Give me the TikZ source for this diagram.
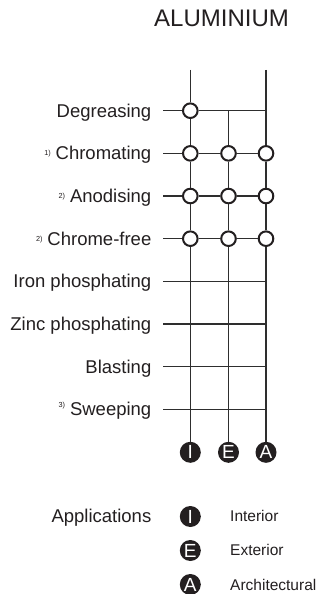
\documentclass[tikz,border=0pt]{standalone}
\usepackage{fontspec}
\setmainfont{Liberation Sans}
\definecolor{ink}{HTML}{231F20}
\definecolor{wire}{HTML}{2E2E2E}
\begin{document}
\begin{tikzpicture}[x=1pt,y=-1pt,
  lbl/.style={anchor=base east, inner sep=0, text=ink, font=\fontsize{18.5}{20}\selectfont},
  note/.style={anchor=base east, inner sep=0, text=ink, font=\fontsize{7.3}{8}\selectfont},
  leg/.style={anchor=base west, inner sep=0, text=ink, font=\fontsize{15.5}{17}\selectfont},
  ring/.style={circle, draw=ink, line width=2pt, fill=white, minimum size=14.6pt, inner sep=0},
  badge/.style={circle, fill=ink, minimum size=21pt, inner sep=0, text=white, font=\fontsize{19}{19}\selectfont},
  wireline/.style={draw=wire, line width=1.25pt},
  titlefont/.style={inner sep=0, text=ink, font=\fontsize{24}{26}\selectfont}]
\useasboundingbox (0,0) rectangle (321,594);
\fill[white] (0,0) rectangle (321,594);

\def\xa{190.3}\def\xb{228.5}\def\xc{266}\def\xs{163.3}\def\xl{151.5}

% title
\node[titlefont] (title) at (221.5,18.8) {ALUMINIUM};

% rows
\foreach \k/\t in {1/Degreasing,2/Chromating,3/Anodising,4/Chrome-free,5/Iron phosphating,6/Zinc phosphating,7/Blasting,8/Sweeping}{
  \pgfmathsetmacro{\yy}{110.7+42.66*(\k-1)}
  \node[lbl] (L\k) at (\xl,\yy+6.4) {\t};
  \coordinate (s\k) at (\xs,\yy);
  \coordinate (c\k1) at (\xa,\yy);
  \coordinate (c\k2) at (\xb,\yy);
  \coordinate (c\k3) at (\xc,\yy);
}
% footnote marks
\node[note] (n2) at ([xshift=-4.5pt,yshift=4pt]L2.base west) {1)};
\node[note] (n3) at ([xshift=-4.5pt,yshift=4pt]L3.base west) {2)};
\node[note] (n4) at ([xshift=-4.5pt,yshift=4pt]L4.base west) {2)};
\node[note] (n8) at ([xshift=-4.5pt,yshift=8pt]L8.base west) {3)};

% ring nodes
\node[ring] (r11) at (c11) {};
\foreach \k in {2,3,4}{
  \node[ring] (r\k1) at (c\k1) {};
  \node[ring] (r\k2) at (c\k2) {};
  \node[ring] (r\k3) at (c\k3) {};
}

% top ends
\coordinate (t1) at (\xa,70);
\coordinate (t3) at (\xc,70);

% bottom badges
\node[badge] (bI) at (\xa,452.3) {I};
\node[badge] (bE) at (\xb,452.3) {E};
\node[badge] (bA) at (\xc,452.3) {A};

% horizontal connectors
\draw[wireline] (s1) -- (r11);
\draw[wireline] (r11) -- (c13);
\foreach \k in {2,3,4}{
  \draw[wireline] (s\k) -- (r\k1);
  \draw[wireline] (r\k1) -- (r\k2);
  \draw[wireline] (r\k2) -- (r\k3);
}
\foreach \k in {5,6,7,8}{
  \draw[wireline] (s\k) -- (c\k3);
}

% vertical connectors
\draw[wireline] (t1) -- (r11);
\draw[wireline] (r11) -- (r21);
\draw[wireline] (r21) -- (r31);
\draw[wireline] (r31) -- (r41);
\draw[wireline] (r41) -- (bI);

\draw[wireline] (c12) -- (r22);
\draw[wireline] (r22) -- (r32);
\draw[wireline] (r32) -- (r42);
\draw[wireline] (r42) -- (bE);

\draw[wireline] (t3) -- (r23);
\draw[wireline] (r23) -- (r33);
\draw[wireline] (r33) -- (r43);
\draw[wireline] (r43) -- (bA);

% legend
\node[lbl] (app) at (\xl,516.5+6.4) {Applications};
\node[badge] (gI) at (\xa,516.5) {I};
\node[badge] (gE) at (\xa,550.5) {E};
\node[badge] (gA) at (\xa,584.5) {A};
\node[leg] (tI) at (230,516+5.5) {Interior};
\node[leg] (tE) at (230,550+5.5) {Exterior};
\node[leg] (tA) at (230,585+5.5) {Architectural};
\end{tikzpicture}
\end{document}
